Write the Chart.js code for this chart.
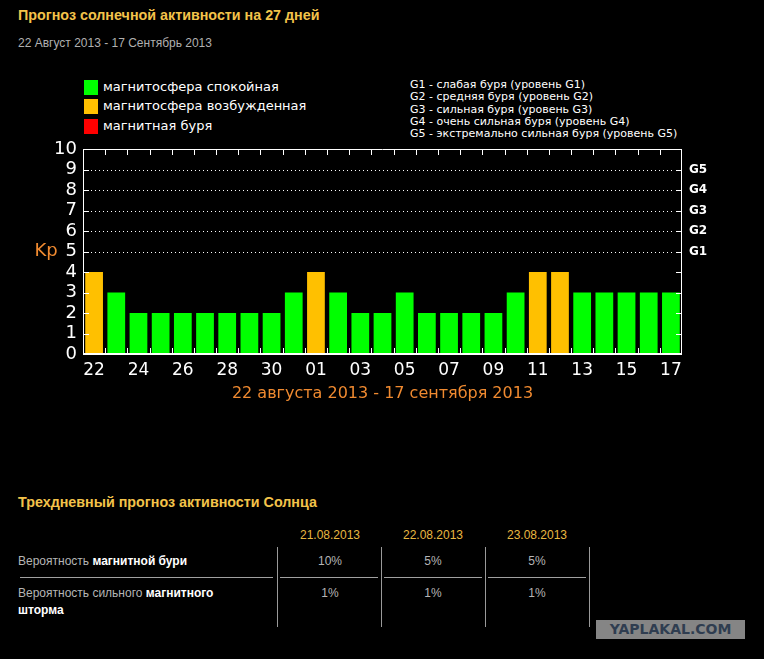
<!DOCTYPE html>
<html><head><meta charset="utf-8">
<script src="https://cdn.jsdelivr.net/npm/chart.js@4/dist/chart.umd.min.js"></script>
<style>
html,body{margin:0;padding:0;background:#000;width:764px;height:659px;overflow:hidden;position:relative}
.t{position:absolute;white-space:nowrap;line-height:16px}
.gold{color:#f3c34a;font-family:"Liberation Sans",Arial,sans-serif;font-weight:bold;font-size:14.3px}
.sub{color:#b0b0b0;font-family:"Liberation Sans",Arial,sans-serif;font-size:12px}
.leg{color:#fff;font-family:"DejaVu Sans",sans-serif;font-size:13px}
.sq{position:absolute;width:14px;height:15px}
.gl{position:absolute;left:410px;top:79px;color:#fff;font-family:"DejaVu Sans",sans-serif;font-size:11px;line-height:12.3px;white-space:nowrap}
.th{color:#e8b840;font-family:"Liberation Sans",Arial,sans-serif;font-size:12px;width:100px;text-align:center}
.td{color:#b5b5b5;font-family:"Liberation Sans",Arial,sans-serif;font-size:12px;width:100px;text-align:center}
.row{color:#b5b5b5;font-family:"Liberation Sans",Arial,sans-serif;font-size:12px}
.row b{color:#fff}
.vl{position:absolute;width:1px;background:#9a9a9a;top:547px;height:80px}
.hl{position:absolute;height:1px;background:#a0a0a0;top:577px}
#cv{position:absolute;left:0;top:134px}
</style></head><body>
<div class="t gold" style="left:18px;top:7px">Прогноз солнечной активности на 27 дней</div>
<div class="t sub" style="left:18px;top:35px">22 Август 2013 - 17 Сентябрь 2013</div>

<div class="sq" style="left:84px;top:80px;background:#00ff00"></div>
<div class="t leg" style="left:103px;top:79px">магнитосфера спокойная</div>
<div class="sq" style="left:84px;top:99px;background:#ffc000"></div>
<div class="t leg" style="left:103px;top:98px">магнитосфера возбужденная</div>
<div class="sq" style="left:84px;top:119px;background:#ff0000"></div>
<div class="t leg" style="left:103px;top:118px">магнитная буря</div>

<div class="gl">G1 - слабая буря (уровень G1)<br>G2 - средняя буря (уровень G2)<br>G3 - сильная буря (уровень G3)<br>G4 - очень сильная буря (уровень G4)<br>G5 - экстремально сильная буря (уровень G5)</div>

<canvas id="cv" width="764" height="286"></canvas>

<div class="t gold" style="left:18px;top:494px">Трехдневный прогноз активности Солнца</div>
<div class="t th" style="left:280px;top:527px">21.08.2013</div>
<div class="t th" style="left:383px;top:527px">22.08.2013</div>
<div class="t th" style="left:487px;top:527px">23.08.2013</div>
<div class="vl" style="left:277px"></div>
<div class="vl" style="left:381px"></div>
<div class="vl" style="left:485px"></div>
<div class="vl" style="left:589px"></div>
<div class="hl" style="left:20px;width:253px"></div>
<div class="hl" style="left:280px;width:98px"></div>
<div class="hl" style="left:384px;width:98px"></div>
<div class="hl" style="left:488px;width:98px"></div>
<div class="t row" style="left:18px;top:553px">Вероятность <b>магнитной бури</b></div>
<div class="t td" style="left:280px;top:553px">10%</div>
<div class="t td" style="left:383px;top:553px">5%</div>
<div class="t td" style="left:487px;top:553px">5%</div>
<div class="t row" style="left:18px;top:585px">Вероятность сильного <b>магнитного</b></div>
<div class="t row" style="left:18px;top:602px"><b>шторма</b></div>
<div class="t td" style="left:280px;top:585px">1%</div>
<div class="t td" style="left:383px;top:585px">1%</div>
<div class="t td" style="left:487px;top:585px">1%</div>

<div style="position:absolute;left:596px;top:620px;width:149px;height:19px;background:#858585;color:#2f3d50;font-family:'DejaVu Sans',sans-serif;font-weight:bold;font-size:14px;line-height:19px;text-align:center">YAPLAKAL.COM</div>

<script>
const days = ['22','23','24','25','26','27','28','29','30','31','01','02','03','04','05','06','07','08','09','10','11','12','13','14','15','16','17'];
const kp = [4,3,2,2,2,2,2,2,2,3,4,3,2,2,3,2,2,2,2,3,4,4,3,3,3,3,3];
const gLevels = {5:'G1',6:'G2',7:'G3',8:'G4',9:'G5'};
const xTitle = '22 августа 2013 - 17 сентября 2013';
const yTitle = 'Kp';

function barColor(v){ return v>=5 ? '#ff0000' : (v>=4 ? '#ffc000' : '#00ff00'); }

const framePlugin = {
  id:'frame',
  afterDraw(chart){
    const ctx = chart.ctx, a = chart.chartArea, y = chart.scales.y, x = chart.scales.x;
    ctx.save();
    ctx.strokeStyle = '#fff';
    ctx.lineWidth = 1;
    ctx.beginPath();
    ctx.moveTo(a.left+0.5, a.bottom); ctx.lineTo(a.left+0.5, a.top+0.5);
    ctx.lineTo(a.right-0.5, a.top+0.5); ctx.lineTo(a.right-0.5, a.bottom);
    ctx.stroke();
    ctx.lineWidth = 2;
    ctx.beginPath(); ctx.moveTo(a.left, a.bottom); ctx.lineTo(a.right, a.bottom); ctx.stroke();
    ctx.lineWidth = 1;
    for (let v=0; v<=10; v++){
      const py = Math.round(y.getPixelForValue(v))+0.5;
      ctx.beginPath();
      ctx.moveTo(a.left, py); ctx.lineTo(a.left+6, py);
      ctx.moveTo(a.right-6, py); ctx.lineTo(a.right, py);
      ctx.stroke();
    }
    ctx.setLineDash([1,3]);
    for (const v of Object.keys(gLevels)){
      const py = Math.round(y.getPixelForValue(+v))+0.5;
      ctx.beginPath(); ctx.moveTo(a.left+8, py); ctx.lineTo(a.right-8, py); ctx.stroke();
    }
    ctx.setLineDash([]);
    const cw = x.getPixelForValue(1) - x.getPixelForValue(0);
    for (let i=1; i<days.length; i++){
      const px = Math.round(x.getPixelForValue(i) - cw/2)+0.5;
      ctx.beginPath();
      ctx.moveTo(px, a.top); ctx.lineTo(px, a.top+6);
      ctx.moveTo(px, a.bottom); ctx.lineTo(px, a.bottom-6);
      ctx.stroke();
    }
    ctx.fillStyle = '#f08a30';
    ctx.font = '18px "DejaVu Sans", sans-serif';
    ctx.textAlign = 'center'; ctx.textBaseline = 'middle';
    ctx.fillText(yTitle, a.left-37, y.getPixelForValue(5));
    ctx.restore();
  }
};

new Chart(document.getElementById('cv'), {
  type:'bar',
  data:{ labels: days, datasets:[{ data: kp, backgroundColor: kp.map(barColor), borderWidth:0, categoryPercentage:1, barPercentage:0.8 }] },
  options:{
    responsive:false, animation:false,
    layout:{ padding:{ top:0, left:0, right:0, bottom:0 } },
    plugins:{ legend:{display:false}, tooltip:{enabled:false} },
    scales:{
      x:{ offset:true, grid:{display:false, drawTicks:false}, border:{display:false},
          ticks:{ color:'#fff', font:{family:'DejaVu Sans', size:17}, autoSkip:false, maxRotation:0, padding:6,
                  callback:(v,i)=> i%2===0 ? days[i] : '' },
          title:{ display:true, text:xTitle, color:'#f08a30', font:{family:'DejaVu Sans', size:16}, padding:{top:0, bottom:17} },
          afterFit:s=>{ s.height = 66; } },
      y:{ min:0, max:10, grid:{display:false, drawTicks:false}, border:{display:false},
          ticks:{ stepSize:1, autoSkip:false, color:'#fff', font:{family:'DejaVu Sans', size:18, lineHeight:1}, padding:6 },
          afterFit:s=>{ s.width = 83; } },
      y2:{ position:'right', min:0, max:10, grid:{display:false, drawTicks:false}, border:{display:false},
          ticks:{ stepSize:1, autoSkip:false, color:'#fff', font:{family:'DejaVu Sans', size:12, weight:'bold'}, padding:7,
                  callback:v=> gLevels[v] || '' },
          afterFit:s=>{ s.width = 82; } }
    }
  },
  plugins:[framePlugin]
});
</script>
</body></html>
